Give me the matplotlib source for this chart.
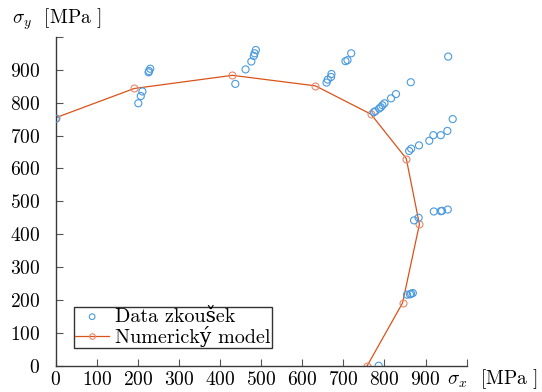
import matplotlib
matplotlib.use("Agg")
import matplotlib.pyplot as plt

# -----------------------------
# DATOS
# -----------------------------

# data zkousek (body z mereni)
data_sx = [0, 201, 207, 211, 226, 227, 230,
           437, 462, 476, 482, 484, 487,
           659, 662, 670, 671, 705, 710, 719,
           955, 864, 828, 816, 800, 795, 791, 787, 778, 774,
           966, 953, 937, 919, 909, 884, 865, 860,
           954, 940, 937, 920, 883, 872,
           869, 865, 862, 855, 786]
data_sy = [751, 798, 820, 834, 892, 896, 903,
           857, 901, 925, 942, 950, 960,
           861, 870, 878, 887, 926, 929, 950,
           940, 862, 826, 813, 798, 792, 786, 782, 774, 771,
           750, 714, 701, 701, 684, 670, 660, 653,
           475, 471, 470, 469, 450, 442,
           221, 219, 217, 216, 0]

# numericky model
model_sx = [0, 191, 430, 632, 767, 853, 885, 844, 758]
model_sy = [754, 843, 883, 851, 765, 630, 430, 191, 0]

x_ticks = list(range(0, 1000, 100))
y_ticks = list(range(0, 1000, 100))

# -----------------------------
# STYL
# -----------------------------

plt.rcParams["font.family"] = ["cmr10", "DejaVu Serif"]
plt.rcParams["mathtext.fontset"] = "cm"
plt.rcParams["axes.formatter.use_mathtext"] = True

blue = "#4a9ade"
orange = "#D95319"

fig = plt.figure(figsize=(5.42, 3.92), dpi=100)
ax = fig.add_axes([0.1028, 0.067, 0.7582, 0.839])

ax.scatter(data_sx, data_sy, s=26, facecolors="none", edgecolors=blue,
           linewidths=0.8, label="Data zkoušek", zorder=3)
ax.plot(model_sx, model_sy, color=orange, lw=0.9, marker="o", ms=5,
        mfc="none", mec="#e8876a", mew=0.8, label="Numerický model", zorder=2)

ax.set_xlim(0, 1000)
ax.set_ylim(0, 1000)
ax.set_xticks(x_ticks)
ax.set_yticks(y_ticks)
ax.set_xticks([1000], minor=True)
ax.set_yticks([1000], minor=True)

for s in ["top", "right"]:
    ax.spines[s].set_visible(False)
for s in ["left", "bottom"]:
    ax.spines[s].set_color("#3a3a3a")
    ax.spines[s].set_linewidth(1.0)

ax.tick_params(which="both", direction="in", length=5, width=0.8,
               color="#555555", labelsize=14)
ax.tick_params(axis="y", pad=11)
ax.tick_params(axis="x", pad=4)

fig.text(12 / 542, 1 - 19 / 392, r"$\sigma_y$  [MPa ]", fontsize=14,
         va="center", ha="left")
fig.text(447 / 542, 1 - 379 / 392, r"$\sigma_x$  [MPa ]", fontsize=14,
         va="center", ha="left")

leg = ax.legend(loc="lower left", bbox_to_anchor=(0.0445, 0.054),
                fontsize=14.5, frameon=True, fancybox=False, framealpha=1,
                edgecolor="#333333", borderpad=0.05, labelspacing=0,
                handlelength=1.7, handletextpad=0.3, borderaxespad=0,
                markerscale=0.8)
leg.get_frame().set_linewidth(1.0)

fig.savefig("out.png", dpi=100)
